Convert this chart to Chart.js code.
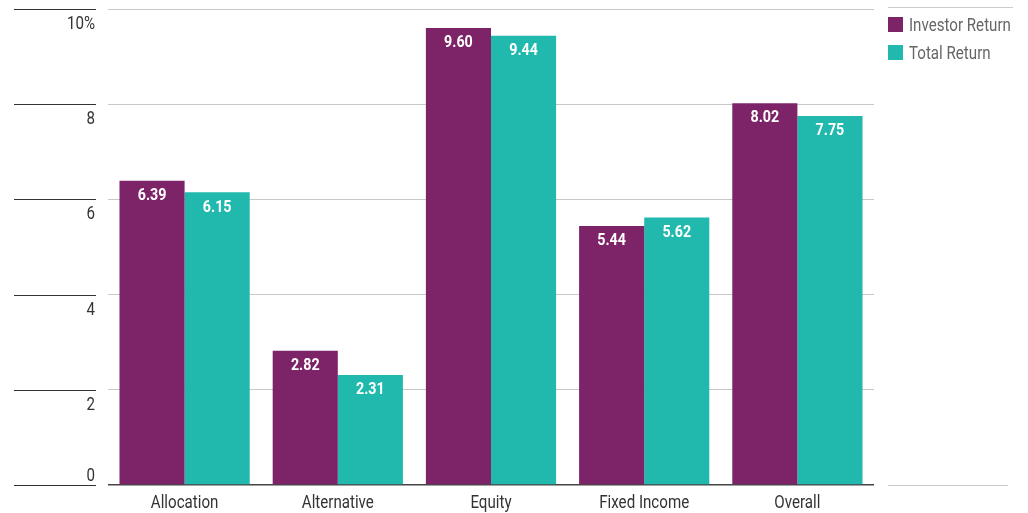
<!DOCTYPE html>
<html>
<head>
<meta charset="utf-8">
<script src="https://cdn.jsdelivr.net/npm/chart.js@4.4.1/dist/chart.umd.min.js"></script>
<style>
  html, body { margin: 0; padding: 0; background: #fff; }
  #wrap { width: 1028px; height: 513px; }
</style>
</head>
<body>
<div id="wrap"><canvas id="chart" width="1028" height="513"></canvas></div>
<script>
const categories = ["Allocation", "Alternative", "Equity", "Fixed Income", "Overall"];
const investorReturn = [6.39, 2.82, 9.60, 5.44, 8.02];
const totalReturn = [6.15, 2.31, 9.44, 5.62, 7.75];
const seriesNames = ["Investor Return", "Total Return"];
const yTicks = [0, 2, 4, 6, 8, 10];
const yTickLabels = ["0", "2", "4", "6", "8", "10%"];

const PURPLE = "#7d2468";
const TEAL = "#21b9ad";
const FONT = "Roboto, 'Liberation Sans', sans-serif";
const SQUEEZE = 0.84; // fake a condensed face

function condText(ctx, text, x, y, align) {
  ctx.save();
  ctx.translate(x, y);
  ctx.scale(SQUEEZE, 1);
  ctx.textAlign = align;
  ctx.fillText(text, 0, 0);
  ctx.restore();
}

// axis labels, value labels, legend and the side rules
const extras = {
  id: "extras",
  afterDraw(chart) {
    const ctx = chart.ctx;
    const x = chart.scales.x;
    const y = chart.scales.y;
    ctx.save();
    ctx.textBaseline = "middle";

    // left rules + tick labels
    ctx.font = "18px " + FONT;
    ctx.fillStyle = "#333";
    yTicks.forEach((v, i) => {
      const py = Math.round(y.getPixelForValue(v)) + 0.5;
      ctx.strokeStyle = "#333";
      ctx.lineWidth = 1;
      ctx.beginPath();
      ctx.moveTo(14, py);
      ctx.lineTo(96, py);
      ctx.stroke();
      const ly = v === 0 ? py - 9 : py + 15;
      condText(ctx, yTickLabels[i], 95, ly, "right");
    });

    // category labels
    ctx.font = "18px " + FONT;
    ctx.fillStyle = "#333";
    categories.forEach((c, i) => {
      condText(ctx, c, x.getPixelForValue(i), 503, "center");
    });

    // value labels inside bars
    ctx.font = "bold 17px " + FONT;
    ctx.fillStyle = "#fff";
    chart.data.datasets.forEach((ds, di) => {
      chart.getDatasetMeta(di).data.forEach((bar, i) => {
        condText(ctx, ds.data[i].toFixed(2), bar.x, bar.y + 15, "center");
      });
    });

    // legend
    ctx.strokeStyle = "#cccccc";
    ctx.beginPath();
    ctx.moveTo(888, 7.5);
    ctx.lineTo(1013, 7.5);
    ctx.stroke();
    ctx.font = "18px " + FONT;
    chart.data.datasets.forEach((ds, di) => {
      const top = 17 + di * 28;
      ctx.fillStyle = ds.backgroundColor;
      ctx.fillRect(888, top, 15, 15);
      ctx.fillStyle = "#666";
      condText(ctx, ds.label, 909, top + 9, "left");
    });

    // bottom right rule
    const by = Math.round(y.getPixelForValue(0)) + 0.5;
    ctx.strokeStyle = "#cccccc";
    ctx.beginPath();
    ctx.moveTo(888, by);
    ctx.lineTo(1008, by);
    ctx.stroke();

    ctx.restore();
  }
};

new Chart(document.getElementById("chart"), {
  type: "bar",
  data: {
    labels: categories,
    datasets: [
      { label: seriesNames[0], data: investorReturn, backgroundColor: PURPLE },
      { label: seriesNames[1], data: totalReturn, backgroundColor: TEAL }
    ]
  },
  options: {
    responsive: false,
    animation: false,
    devicePixelRatio: 1,
    layout: { padding: { left: 108, right: 154, top: 9, bottom: 28 } },
    datasets: {
      bar: { categoryPercentage: 0.85, barPercentage: 1.0, borderWidth: 0 }
    },
    plugins: {
      legend: { display: false },
      tooltip: { enabled: false }
    },
    scales: {
      x: {
        afterFit(scale) { scale.height = 0; },
        grid: { display: false },
        border: { display: false },
        ticks: { display: false }
      },
      y: {
        min: 0,
        max: 10,
        afterFit(scale) { scale.width = 0; },
        ticks: { display: false, stepSize: 2 },
        border: { display: false },
        grid: {
          drawTicks: false,
          color: c => c.tick.value === 0 ? "#444" : "#c8c8c8",
          lineWidth: c => c.tick.value === 0 ? 1.5 : 1
        }
      }
    }
  },
  plugins: [extras]
});
</script>
</body>
</html>
